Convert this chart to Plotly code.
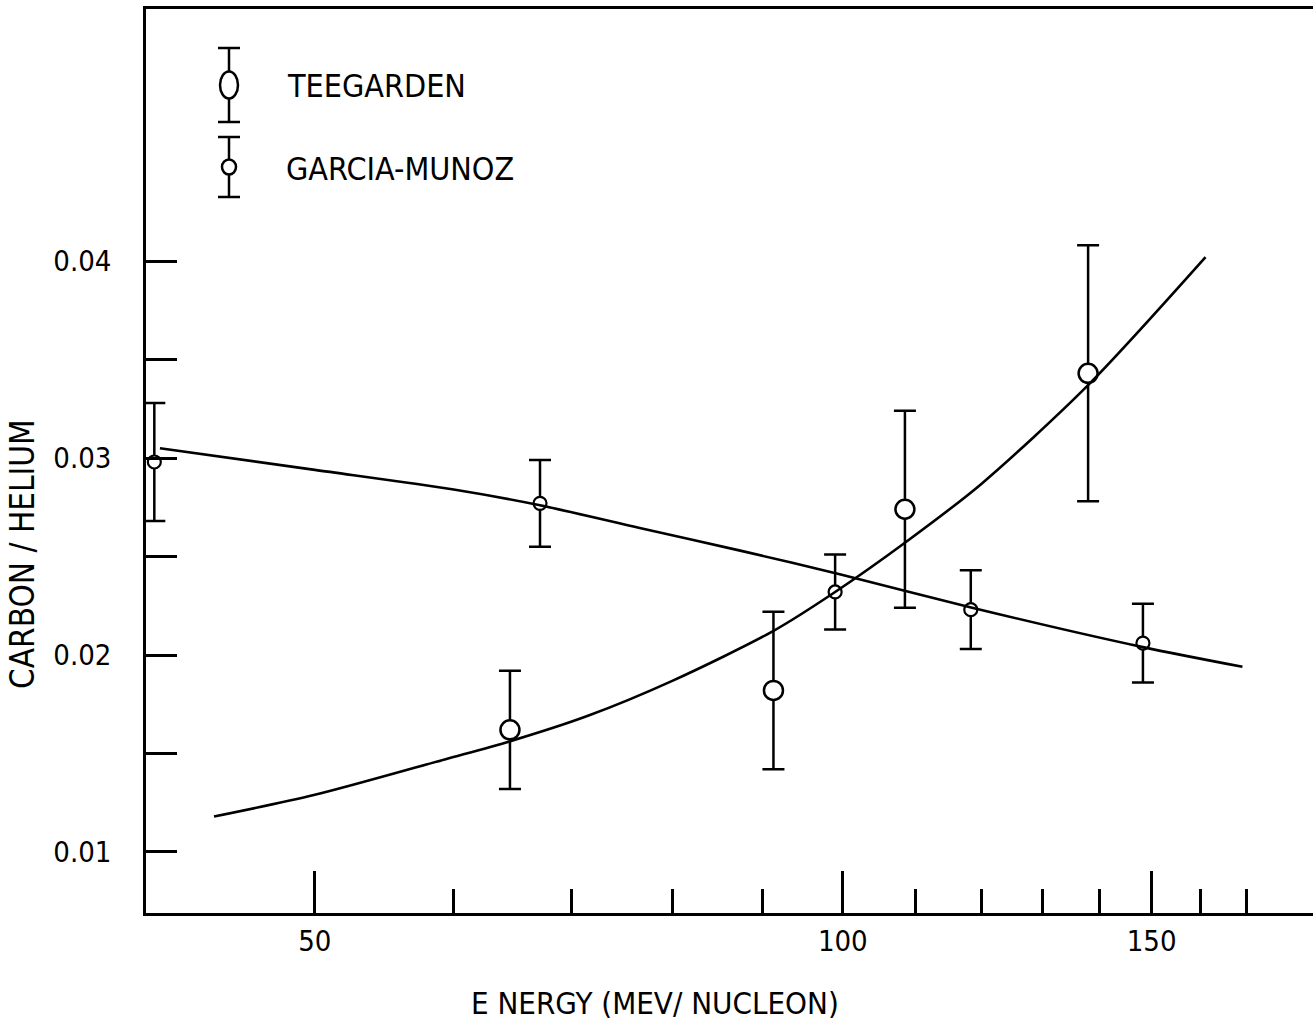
import math
import plotly.graph_objects as go

# ---- measured carbon/helium ratios ----
teeg_energy = [64.6, 91.3, 108.5, 138.0]
teeg_ratio = [0.0162, 0.0182, 0.0274, 0.0343]
teeg_err = [0.0030, 0.0040, 0.0050, 0.0065]

gm_energy = [40.5, 67.2, 99.0, 118.3, 148.3]
gm_ratio = [0.0298, 0.0277, 0.0232, 0.0223, 0.0206]
gm_err = [0.0030, 0.0022, 0.0019, 0.0020, 0.0020]

# ---- hand-drawn trend curves ----
teeg_fit_energy = [43.8, 50, 59.3, 64.5, 71.5, 80, 91.2, 99, 108.5, 120, 138, 161]
teeg_fit_ratio = [0.0118, 0.0129, 0.0147, 0.0156, 0.0169, 0.0187, 0.0212,
                  0.0232, 0.0257, 0.0287, 0.0337, 0.0402]

gm_fit_energy = [40.8, 50, 60, 67.2, 76.6, 87.4, 99.6, 118.5, 148.3, 169]
gm_fit_ratio = [0.0305, 0.0294, 0.0284, 0.0276, 0.02645, 0.0253, 0.0241,
                0.0224, 0.0204, 0.0194]

# ---- axis ticks ----
x_tick_vals = [50, 100, 150]
x_tick_text = ["50", "100", "150"]
x_minor_vals = [60, 70, 80, 90, 110, 120, 130, 140, 160, 170]
y_tick_vals = [0.01, 0.02, 0.03, 0.04]
y_tick_text = ["0.01", "0.02", "0.03", "0.04"]
y_minor_vals = [0.015, 0.025, 0.035]

series_names = ["TEEGARDEN", "GARCIA-MUNOZ"]
x_title = "E NERGY (MEV/ NUCLEON)"
y_title = "CARBON / HELIUM"

FONT = "DejaVu Sans Condensed, Liberation Sans Narrow, Liberation Sans, sans-serif"
INK = "black"
W, H = 1313, 1021
ML, MR, MT, MB = 146, 0, 9, 108
PW, PH = W - ML - MR, H - MT - MB


def px(x):
    return (x - ML) / PW


def py(y):
    return (H - MB - y) / PH


fig = go.Figure()

fig.add_trace(go.Scatter(
    x=teeg_energy, y=teeg_ratio, mode="markers", name=series_names[0],
    marker=dict(symbol="circle", size=19, color="white",
                line=dict(color=INK, width=2.5)),
    error_y=dict(type="data", array=teeg_err, visible=True, color=INK,
                 thickness=2.5, width=11),
    showlegend=False,
))

fig.add_trace(go.Scatter(
    x=gm_energy, y=gm_ratio, mode="markers", name=series_names[1],
    marker=dict(symbol="circle", size=13, color="white",
                line=dict(color=INK, width=2.2)),
    error_y=dict(type="data", array=gm_err, visible=True, color=INK,
                 thickness=2.5, width=11),
    showlegend=False,
))

fig.add_trace(go.Scatter(
    x=teeg_fit_energy, y=teeg_fit_ratio, mode="lines",
    line=dict(color=INK, width=2.6, shape="spline", smoothing=0.8),
    showlegend=False, hoverinfo="skip",
))

fig.add_trace(go.Scatter(
    x=gm_fit_energy, y=gm_fit_ratio, mode="lines",
    line=dict(color=INK, width=2.6, shape="spline", smoothing=0.8),
    showlegend=False, hoverinfo="skip",
))

# ---- key: error-bar glyphs drawn as shapes, labels as text ----
shapes = []
key_items = [
    # (centre y, bar top, bar bottom, marker width, marker height)
    (85, 48, 122, 18, 27),
    (167, 137, 197, 14, 15),
]
kx = 229
for cy, top, bot, mw, mh in key_items:
    shapes.append(dict(type="line", xref="paper", yref="paper",
                       x0=px(kx), x1=px(kx), y0=py(top), y1=py(bot),
                       line=dict(color=INK, width=2.5)))
    for yy in (top, bot):
        shapes.append(dict(type="line", xref="paper", yref="paper",
                           x0=px(kx - 11), x1=px(kx + 11), y0=py(yy), y1=py(yy),
                           line=dict(color=INK, width=2.5)))
    shapes.append(dict(type="circle", xref="paper", yref="paper",
                       x0=px(kx - mw / 2), x1=px(kx + mw / 2),
                       y0=py(cy - mh / 2), y1=py(cy + mh / 2),
                       fillcolor="white", line=dict(color=INK, width=2.5)))

annotations = [
    dict(text=series_names[0], xref="paper", yref="paper", x=px(285), y=py(86),
         xanchor="left", yanchor="middle", showarrow=False,
         font=dict(family=FONT, size=32, color=INK)),
    dict(text=series_names[1], xref="paper", yref="paper", x=px(284), y=py(169),
         xanchor="left", yanchor="middle", showarrow=False,
         font=dict(family=FONT, size=32, color=INK)),
    dict(text=x_title, xref="paper", yref="paper", x=px(655), y=py(1003),
         xanchor="center", yanchor="middle", showarrow=False,
         font=dict(family=FONT, size=31, color=INK)),
    dict(text=y_title, xref="paper", yref="paper", x=px(22), y=py(554),
         xanchor="center", yanchor="middle", showarrow=False, textangle=-90,
         font=dict(family=FONT, size=33, color=INK)),
]

fig.update_layout(
    width=W, height=H, autosize=False,
    margin=dict(l=ML, r=MR, t=MT, b=MB, pad=0),
    paper_bgcolor="white", plot_bgcolor="white",
    font=dict(family=FONT, color=INK),
    shapes=shapes, annotations=annotations,
    xaxis=dict(
        type="log", range=[math.log10(40.06), math.log10(185.4)],
        showgrid=False, zeroline=False,
        showline=True, linecolor=INK, linewidth=2.5, mirror=True,
        ticks="inside", ticklen=42, tickwidth=2.5, tickcolor=INK,
        tickmode="array", tickvals=x_tick_vals, ticktext=x_tick_text,
        tickfont=dict(family=FONT, size=29, color=INK),
        ticklabelstandoff=0,
        minor=dict(tickmode="array", tickvals=x_minor_vals, ticks="inside",
                   ticklen=24, tickwidth=2.5, tickcolor=INK, showgrid=False),
    ),
    yaxis=dict(
        range=[0.0069, 0.0528],
        showgrid=False, zeroline=False,
        showline=True, linecolor=INK, linewidth=2.5, mirror=False,
        ticks="inside", ticklen=31, tickwidth=2.5, tickcolor=INK,
        tickmode="array", tickvals=y_tick_vals, ticktext=y_tick_text,
        tickfont=dict(family=FONT, size=29, color=INK),
        ticklabelstandoff=26,
        minor=dict(tickmode="array", tickvals=y_minor_vals, ticks="inside",
                   ticklen=31, tickwidth=2.5, tickcolor=INK, showgrid=False),
    ),
)

fig.write_html("out.html")
